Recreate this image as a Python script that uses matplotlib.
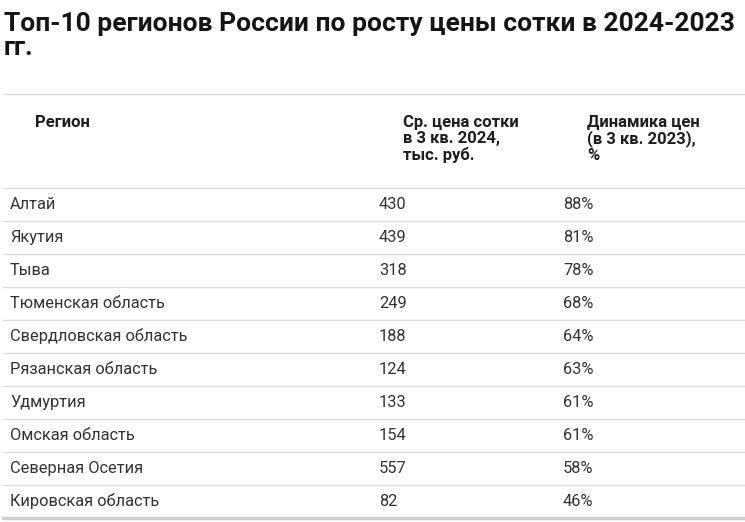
import matplotlib
matplotlib.use("Agg")
import matplotlib.pyplot as plt

title_lines = ["Топ-10 регионов России по росту цены сотки в 2024-2023", "гг."]
headers = ["Регион", "Ср. цена сотки\nв 3 кв. 2024,\nтыс. руб.", "Динамика цен\n(в 3 кв. 2023),\n%"]
regions = ["Алтай", "Якутия", "Тыва", "Тюменская область", "Свердловская область",
           "Рязанская область", "Удмуртия", "Омская область", "Северная Осетия", "Кировская область"]
prices = [430, 439, 318, 249, 188, 124, 133, 154, 557, 82]
growth = [88, 81, 78, 68, 64, 63, 61, 61, 58, 46]

W, H = 745, 522
fig = plt.figure(figsize=(W / 100, H / 100), dpi=100)
ax = fig.add_axes([0, 0, 1, 1])
ax.set_xlim(0, W)
ax.set_ylim(H, 0)
ax.axis("off")

fam = ["Roboto", "DejaVu Sans"]
txt = "#333333"
line_c = "#dcdcdc"

for k, t in enumerate(title_lines):
    ax.text(4, 31 + 24 * k, t, fontsize=19, fontweight="bold", family=fam, color="#151515",
            va="baseline", ha="left")

ax.plot([3, W], [94, 94], color=line_c, lw=1)
hx = [35, 403, 587]
for x, h in zip(hx, headers):
    for j, line in enumerate(h.split("\n")):
        ax.text(x, 127 + 16.5 * j, line, fontsize=12, fontweight="bold", family=fam, color="#1e1e1e",
                va="baseline", ha="left")

top = 188
rh = 33
ax.plot([3, W], [top, top], color=line_c, lw=1)
for i, (r, p, g) in enumerate(zip(regions, prices, growth)):
    yb = top + rh * i + 21
    ax.text(10, yb, r, fontsize=11.8, family=fam, color=txt, va="baseline", ha="left")
    ax.text(379, yb, str(p), fontsize=11.8, family=fam, color=txt, va="baseline", ha="left")
    ax.text(563, yb, f"{g}%", fontsize=11.8, family=fam, color=txt, va="baseline", ha="left")
    yl = top + rh * (i + 1)
    if i < len(regions) - 1:
        ax.plot([3, W], [yl, yl], color=line_c, lw=1)
    else:
        ax.plot([3, W], [yl, yl], color="#d0d0d0", lw=2.5)

fig.savefig("out.png", dpi=100, facecolor="white")
